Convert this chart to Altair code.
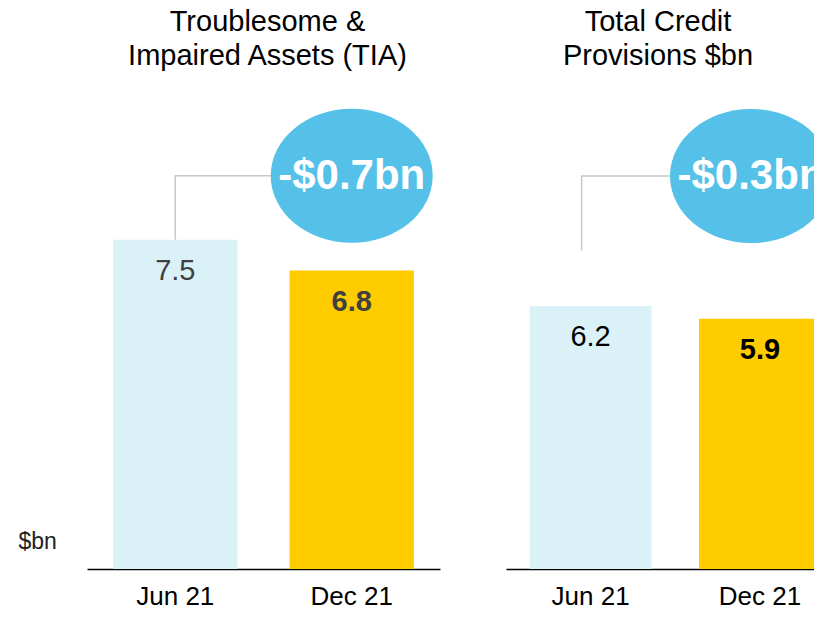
import altair as alt
import pandas as pd

# ---- data ----
periods = ["Jun 21", "Dec 21"]
bar_colors = ["#DBF1F8", "#FFCC00"]
tia_values = [7.5, 6.8]
prov_values = [6.2, 5.9]
change_labels = ["-$0.7bn", "-$0.3bn"]
tia_title = ["Troublesome &", "Impaired Assets (TIA)"]
prov_title = ["Total Credit", "Provisions $bn"]
# annotation levels (in $bn units of each panel)
bubble_levels = [8.96, 9.26]
connector_starts = [7.5, 7.5]
y_maxes = [11.12, 11.5]

FONT = "Liberation Sans"
PLOT_H = 488
# ellipse (rx=1, ry=0.828) as cubic beziers
ELLIPSE = ("M -1 0 C -1 -0.4573 -0.5523 -0.828 0 -0.828 "
           "C 0.5523 -0.828 1 -0.4573 1 0 "
           "C 1 0.4573 0.5523 0.828 0 0.828 "
           "C -0.5523 0.828 -1 0.4573 -1 0 Z")


def panel(values, title_lines, title_dx, y_max, bubble_y, conn_start, change,
          label_color, shift, ann_off, width, x_scale, show_ytitle, clip):
    df = pd.DataFrame({"period": periods, "value": values, "color": bar_colors})
    x_axis = alt.Axis(title=None, ticks=False, labelAngle=0,
                      labelFontSize=26, labelFont=FONT, labelColor="#000",
                      labelPadding=14, labelOffset=shift, grid=False,
                      domainColor="#000", domainWidth=1.5)
    x = alt.X("period:N", sort=periods, scale=x_scale, axis=x_axis)
    if show_ytitle:
        y_axis = alt.Axis(title="$bn", labels=False, ticks=False, domain=False,
                          grid=False, titleAngle=0, titleAlign="left",
                          titleBaseline="middle", titleX=-69,
                          titleY=PLOT_H - 28,
                          titleFontSize=23, titleFont=FONT,
                          titleFontWeight="normal", titleColor="#222")
    else:
        y_axis = None
    y = alt.Y("value:Q", scale=alt.Scale(domain=[0, y_max]), axis=y_axis)

    bars = alt.Chart(df).mark_bar(xOffset=shift, clip=clip).encode(
        x=x, y=y, color=alt.Color("color:N", scale=None))

    lab_reg = alt.Chart(df).transform_filter(alt.datum.period == periods[0]).mark_text(
        dy=31, fontSize=29, font=FONT, color=label_color, baseline="middle",
        xOffset=shift
    ).encode(x=x, y=y, text=alt.Text("value:Q", format=".1f"))
    lab_bold = alt.Chart(df).transform_filter(alt.datum.period == periods[1]).mark_text(
        dy=31, fontSize=29, font=FONT, fontWeight="bold", color=label_color,
        baseline="middle", xOffset=shift
    ).encode(x=x, y=y, text=alt.Text("value:Q", format=".1f"))

    conn = pd.DataFrame({"period": [periods[0], periods[0], periods[1]],
                         "value": [conn_start, bubble_y, bubble_y],
                         "o": [0, 1, 2]})
    line = alt.Chart(conn).mark_line(color="#C8C8C8", strokeWidth=1.5,
                                     xOffset=ann_off).encode(
        x=x, y=y, order="o:Q")

    bub = pd.DataFrame({"period": [periods[1]], "value": [bubble_y],
                        "label": [change]})
    bubble = alt.Chart(bub).mark_point(shape=ELLIPSE, size=162 * 162,
                                       filled=True, fill="#56C1E8",
                                       opacity=1, strokeWidth=0,
                                       xOffset=ann_off, clip=clip).encode(x=x, y=y)
    btext = alt.Chart(bub).mark_text(fontSize=42, font=FONT, fontWeight="bold",
                                     color="white", baseline="middle",
                                     xOffset=ann_off, clip=clip).encode(
        x=x, y=y, text="label:N")

    return alt.layer(bars, line, bubble, btext, lab_reg, lab_bold).properties(
        width=width, height=PLOT_H,
        title=alt.TitleParams(text=title_lines, fontSize=29, font=FONT,
                              fontWeight="normal", color="#000",
                              lineHeight=34, anchor="middle", dx=title_dx,
                              offset=10)
    )


left = panel(tia_values, tia_title, 4, y_maxes[0], bubble_levels[0],
             connector_starts[0], change_labels[0], "#404040", 0, 0, 353,
             alt.Scale(paddingInner=0.295, paddingOuter=0.148), True, False)
right = panel(prov_values, prov_title, -2, y_maxes[1], bubble_levels[1],
              connector_starts[1], change_labels[1], "#000", 7, -2, 308,
              alt.Scale(paddingInner=0.28, paddingOuter=0.049, align=1),
              False, True)

chart = alt.hconcat(left, right, spacing=66).resolve_scale(
    x="independent", y="independent"
).properties(
    padding={"left": 10, "top": 0, "right": 0, "bottom": 0}
).configure_view(stroke=None)

chart.save("out.html", embed_options={"renderer": "svg", "actions": False})
